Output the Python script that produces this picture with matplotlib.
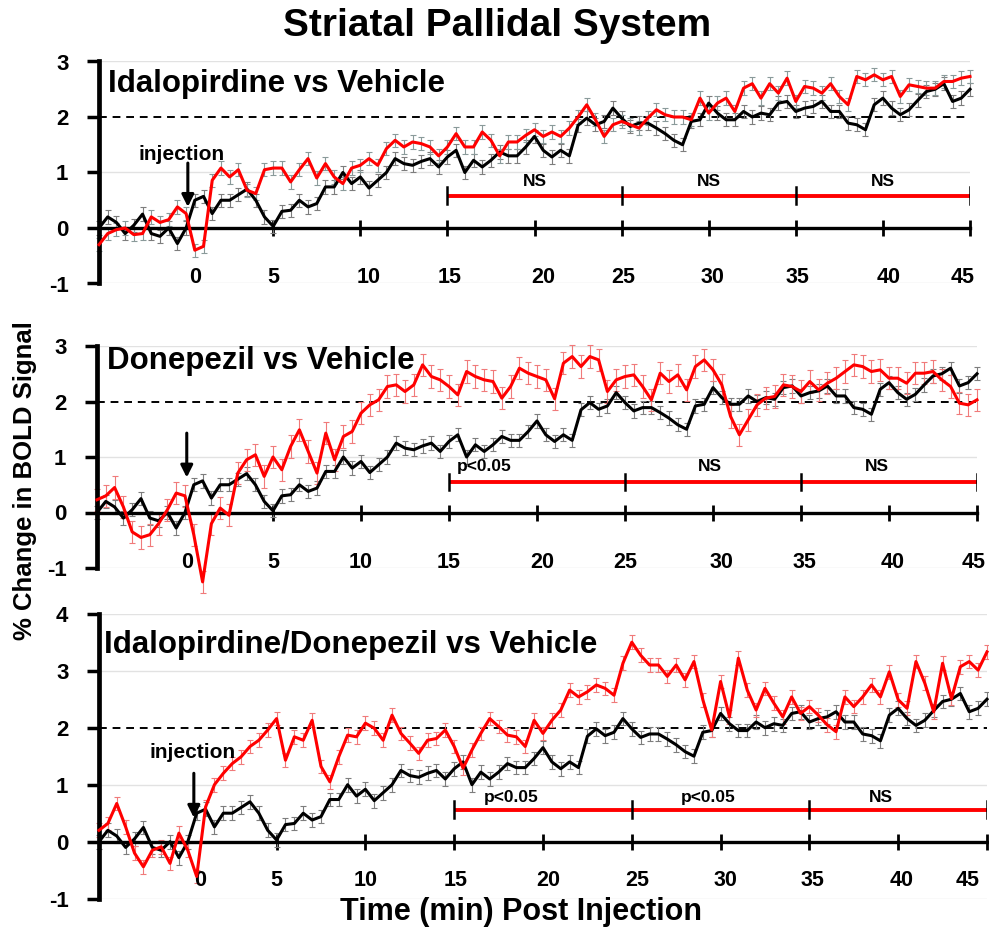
import numpy as np
import matplotlib
matplotlib.use("Agg")
import matplotlib.pyplot as plt

plt.rcParams['font.family'] = ['Liberation Sans', 'DejaVu Sans']
plt.rcParams['axes.unicode_minus'] = False

# ---------------- data (0.5 min sampling) ----------------
time_min = np.arange(-5.0, 45.01, 0.5)

vehicle = [
    0.0, 0.2, 0.1, -0.1, 0.05, 0.25, -0.1, -0.15, 0.0, -0.28,
    0.0, 0.5, 0.57, 0.26, 0.5, 0.5, 0.6, 0.7, 0.5, 0.2,
    0.03, 0.3, 0.32, 0.5, 0.38, 0.44, 0.74, 0.74, 1.0, 0.8,
    0.92, 0.72, 0.86, 1.0, 1.25, 1.16, 1.13, 1.2, 1.25, 1.1,
    1.28, 1.4, 1.0, 1.22, 1.1, 1.22, 1.37, 1.3, 1.3, 1.46,
    1.65, 1.4, 1.28, 1.4, 1.3, 1.85, 1.98, 1.86, 1.92, 2.16,
    1.98, 1.83, 1.89, 1.89, 1.8, 1.7, 1.58, 1.5, 1.92, 1.95,
    2.25, 2.07, 1.95, 1.95, 2.1, 2.0, 2.07, 2.04, 2.25, 2.28,
    2.1, 2.16, 2.19, 2.28, 2.1, 2.1, 1.89, 1.86, 1.77, 2.22,
    2.34, 2.16, 2.04, 2.13, 2.3, 2.46, 2.5, 2.6, 2.28, 2.34,
    2.5,
]

idalopirdine = [
    -0.3, -0.1, -0.03, 0.0, -0.12, -0.1, 0.2, 0.1, 0.15, 0.38,
    0.26, -0.4, -0.33, 0.86, 1.08, 0.92, 1.05, 0.68, 0.62, 1.05,
    1.08, 1.08, 0.83, 1.05, 1.25, 0.9, 1.16, 0.92, 0.8, 1.08,
    1.13, 1.25, 1.13, 1.43, 1.58, 1.46, 1.55, 1.52, 1.46, 1.3,
    1.46, 1.7, 1.46, 1.46, 1.73, 1.58, 1.3, 1.55, 1.55, 1.67,
    1.77, 1.65, 1.73, 1.65, 1.8, 2.0, 2.22, 1.95, 1.65, 1.86,
    1.92, 1.86, 1.8, 1.98, 2.13, 2.04, 2.0, 2.0, 1.95, 2.34,
    2.07, 2.25, 2.34, 2.1, 2.52, 2.6, 2.34, 2.6, 2.43, 2.7,
    2.28, 2.55, 2.52, 2.43, 2.6, 2.37, 2.22, 2.73, 2.67, 2.76,
    2.67, 2.73, 2.37, 2.58, 2.55, 2.52, 2.52, 2.64, 2.64, 2.7,
    2.73,
]

donepezil = [
    0.23, 0.3, 0.45, 0.1, -0.35, -0.45, -0.4, -0.2, 0.05, 0.35,
    0.3, -0.4, -1.25, -0.2, 0.08, -0.05, 0.71, 0.95, 1.04, 0.65,
    1.0, 0.77, 1.19, 1.49, 1.1, 0.71, 1.43, 0.95, 1.37, 1.46,
    1.79, 1.94, 2.03, 2.27, 2.3, 2.18, 2.3, 2.66, 2.45, 2.39,
    2.27, 2.12, 2.54, 2.45, 2.39, 2.36, 2.06, 2.27, 2.6, 2.51,
    2.45, 2.39, 2.05, 2.69, 2.81, 2.63, 2.81, 2.75, 2.18, 2.39,
    2.45, 2.48, 2.27, 2.03, 2.51, 2.36, 2.48, 2.21, 2.63, 2.75,
    2.57, 2.3, 1.73, 1.4, 1.67, 1.94, 2.06, 2.09, 2.3, 2.27,
    2.18, 2.36, 2.21, 2.33, 2.42, 2.54, 2.66, 2.63, 2.54, 2.57,
    2.42, 2.42, 2.33, 2.51, 2.51, 2.54, 2.39, 2.27, 1.97, 1.94,
    2.03,
]

combination = [
    0.2, 0.32, 0.67, 0.26, -0.2, -0.44, -0.15, -0.09, -0.38, 0.15,
    -0.15, -0.61, 0.61, 1.0, 1.2, 1.37, 1.49, 1.67, 1.78, 1.96,
    2.16, 1.43, 1.84, 1.78, 2.13, 1.32, 1.05, 1.49, 1.87, 1.84,
    2.08, 1.99, 1.78, 2.22, 1.9, 1.73, 1.55, 1.78, 1.81, 1.96,
    1.67, 1.29, 1.61, 1.9, 2.16, 2.02, 1.87, 1.84, 1.67, 2.13,
    1.9, 2.13, 2.31, 2.66, 2.54, 2.63, 2.75, 2.69, 2.57, 3.13,
    3.5, 3.27, 3.1, 3.1, 2.9, 3.1, 2.84, 3.16, 2.49, 1.96,
    2.81, 2.19, 3.22, 2.66, 2.31, 2.69, 2.43, 2.19, 2.54, 2.25,
    2.37, 2.22, 2.05, 1.93, 2.54, 2.37, 2.54, 2.75, 2.54, 2.98,
    2.49, 2.34, 3.16, 2.78, 2.28, 3.13, 2.51, 3.07, 3.16, 3.01,
    3.33,
]

# standard errors (approximately constant per group)
sem_vehicle = 0.12
sem_idalopirdine = 0.12
sem_donepezil = 0.2
sem_combination = 0.12

panel_titles = ["Idalopirdine vs Vehicle", "Donepezil vs Vehicle",
                "Idalopirdine/Donepezil vs Vehicle"]
drug_series = [idalopirdine, donepezil, combination]
drug_sems = [sem_idalopirdine, sem_donepezil, sem_combination]
sig_labels = [["NS", "NS", "NS"], ["p<0.05", "NS", "NS"], ["p<0.05", "p<0.05", "NS"]]
sig_edges = [15, 25, 35, 45]
x_ticks = [5, 10, 15, 20, 25, 30, 35, 40, 45]
x_ticklabels = ["0", "5", "10", "15", "20", "25", "30", "35", "40", "45"]

# ---------------- layout ----------------
W, H = 989, 930
fig = plt.figure(figsize=(W / 100, H / 100), dpi=100)

def px_axes(left, right, top, bottom):
    return fig.add_axes([left / W, 1 - bottom / H, (right - left) / W, (bottom - top) / H])

panel_boxes = [(99, 970, 61.5, 283.5), (97, 977, 346, 568), (99, 987, 613.7, 898.7)]
panel_ylims = [(-1, 3), (-1, 3), (-1, 4)]
drug_ecolors = ["#8a9a9a", "#f07a7a", "#f07a7a"]
sig_y = [0.58, 0.55, 0.56]
sig_label_x = [[20, 30, 40], [17, 29.8, 39.3], [18.2, 29.3, 39.0]]
sig_label_y = [0.83, 0.82, 0.77]
tick_label_y = [-0.9, -0.9, -0.68]
tick_label_x = [
    [0.5, 5, 10.5, 15.1, 20.5, 25.1, 30.2, 35.1, 40.3, 44.6],
    [0.1, 5, 10, 15, 20.3, 25, 30.5, 35.2, 40.2, 44.8],
    [0.7, 5, 10, 15.1, 20.3, 25.3, 30.3, 35.2, 40.2, 43.9],
]
arrow_specs = [(0.1, 1.17, 0.38), (0.1, 1.43, 0.63), (0.34, 1.2, 0.42)]
inj_text = [(-0.25, 1.33), None, (0.28, 1.57)]
title_baseline_px = [92, 369, 653]
title_left_px = [108, 107, 104]

for i in range(3):
    ax = px_axes(*panel_boxes[i])
    lo, hi = panel_ylims[i]
    ax.set_xlim(-5, 45)
    ax.set_ylim(lo, hi)
    ax.patch.set_alpha(0)
    for s in ("top", "right"):
        ax.spines[s].set_visible(False)
    ax.spines["left"].set_linewidth(3.4)
    ax.spines["bottom"].set_position(("data", 0))
    ax.spines["bottom"].set_linewidth(2.4)
    ax.set_xticks(x_ticks)
    ax.tick_params(axis="x", direction="inout", length=12, width=2, labelbottom=False)
    yt = list(range(lo, hi + 1))
    ax.set_yticks(yt)
    ax.tick_params(axis="y", direction="out", length=9, width=2.5, labelsize=16, pad=13)
    for lab in ax.get_yticklabels():
        lab.set_fontweight("bold")

    for g in yt:
        if g not in (0, 2):
            ax.axhline(g, color="#e2e2e2", lw=1.0, zorder=0)
    ax.axhline(2, color="k", lw=1.4, ls=(0, (4, 3)), zorder=1)

    ax.errorbar(time_min, vehicle, yerr=sem_vehicle, fmt="none", ecolor="#7d7d7d",
                elinewidth=0.8, capsize=2.5, capthick=0.8, zorder=2, clip_on=False)
    ax.errorbar(time_min, drug_series[i], yerr=drug_sems[i], fmt="none",
                ecolor=drug_ecolors[i], elinewidth=0.8, capsize=2.5, capthick=0.8,
                zorder=2, clip_on=False)
    ax.plot(time_min, vehicle, color="k", lw=2.2, zorder=3, clip_on=False)
    ax.plot(time_min, drug_series[i], color="#ff0000", lw=2.2, zorder=4, clip_on=False)

    # significance bar
    ax.plot([sig_edges[0], sig_edges[-1]], [sig_y[i], sig_y[i]], color="#ff0000",
            lw=2.8, zorder=5, solid_capstyle="butt")
    for e in sig_edges:
        ax.plot([e, e], [sig_y[i] - 0.15, sig_y[i] + 0.15], color="k", lw=1.8, zorder=6)
    for lx, lab in zip(sig_label_x[i], sig_labels[i]):
        ax.text(lx, sig_label_y[i], lab, ha="center", va="center", fontsize=12.5,
                fontweight="bold")

    # x tick labels at the bottom of each panel
    for lx, lab in zip(tick_label_x[i], x_ticklabels):
        ax.text(lx, tick_label_y[i], lab, ha="center", va="center", fontsize=15.5,
                fontweight="bold")

    # injection arrow
    axx, top, tip = arrow_specs[i]
    ax.annotate("", xy=(axx, tip), xytext=(axx, top),
                arrowprops=dict(arrowstyle="-|>", color="k", lw=2.2, mutation_scale=18,
                                shrinkA=0, shrinkB=0), zorder=7)
    if inj_text[i] is not None:
        ax.text(inj_text[i][0], inj_text[i][1], "injection", ha="center", va="center",
                fontsize=15, fontweight="bold")

    fig.text(title_left_px[i] / W, 1 - title_baseline_px[i] / H, panel_titles[i],
             ha="left", va="baseline", fontsize=22.5, fontweight="bold")

fig.text(497 / W, 1 - 36 / H, "Striatal Pallidal System", ha="center", va="baseline",
         fontsize=28, fontweight="bold")
fig.text(25 / W, 1 - 481 / H, "% Change in BOLD Signal", rotation=90, ha="center",
         va="center", fontsize=18.5, fontweight="bold")
fig.text(521 / W, 1 - 912 / H, "Time (min) Post Injection", ha="center", va="center",
         fontsize=22, fontweight="bold")

fig.savefig("out.png", dpi=100, facecolor="white")
